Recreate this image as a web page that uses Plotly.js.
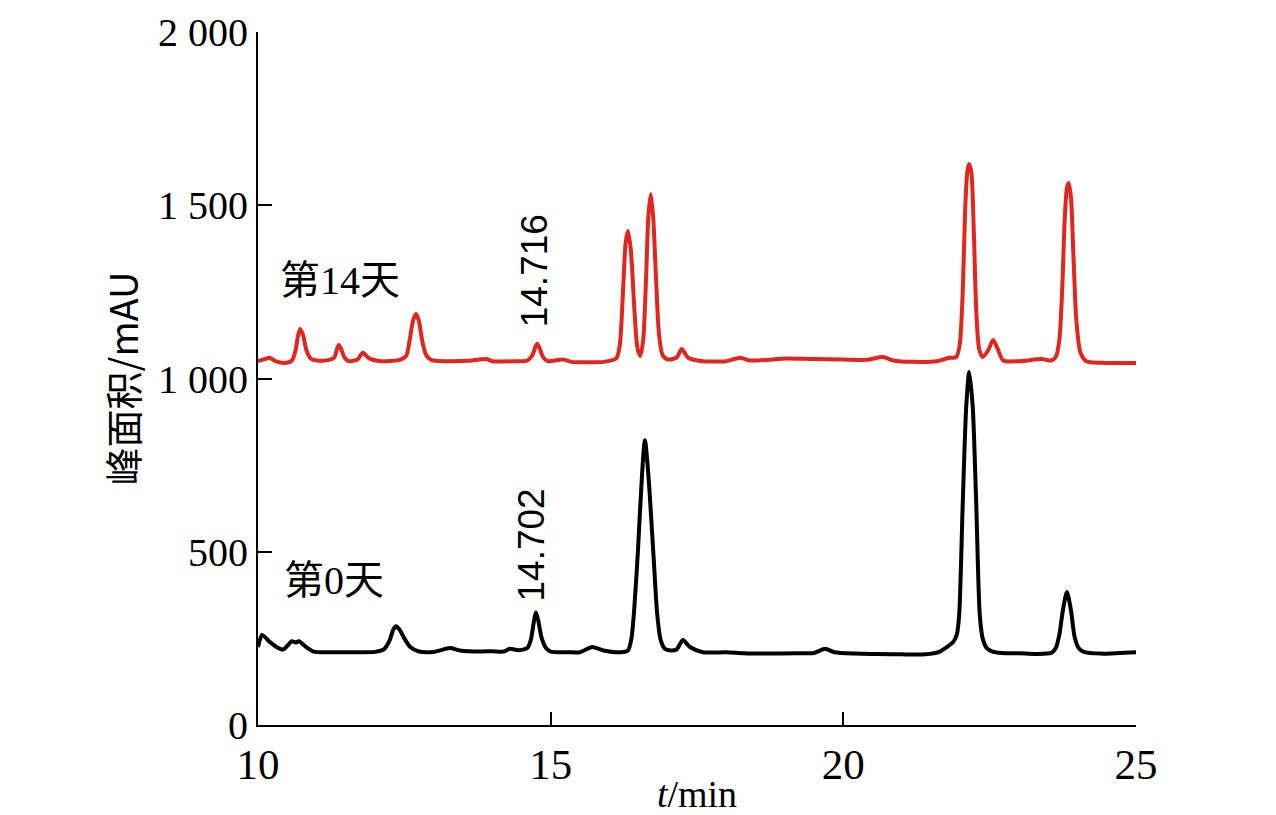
<!DOCTYPE html>
<html>
<head>
<meta charset="utf-8">
<script src="https://cdn.plot.ly/plotly-3.0.1.min.js"></script>
<style>
html,body{margin:0;padding:0;background:#fff;}
#chart{width:1276px;height:815px;}
</style>
</head>
<body>
<div id="chart"></div>
<script>
// Day 0 chromatogram (black)
const day0Time = [10.0,10.07,10.2,10.35,10.43,10.52,10.58,10.64,10.70,10.8,10.95,11.2,11.6,12.0,12.15,12.25,12.31,12.36,12.42,12.5,12.6,12.75,13.0,13.28,13.45,13.8,14.0,14.2,14.3,14.45,14.6,14.66,14.71,14.75,14.79,14.84,14.92,15.0,15.3,15.5,15.71,15.9,16.2,16.32,16.38,16.43,16.49,16.56,16.61,16.67,16.76,16.82,16.88,16.95,17.05,17.15,17.26,17.38,17.6,18.0,18.3,18.7,19.2,19.5,19.69,19.85,20.2,20.6,21.0,21.4,21.65,21.77,21.88,21.94,21.98,22.04,22.10,22.15,22.21,22.27,22.33,22.38,22.45,22.55,22.7,23.0,23.3,23.55,23.63,23.69,23.75,23.82,23.89,23.95,24.02,24.1,24.4,25.0];
const day0Signal = [225,260,240,222,218,232,242,238,242,228,212,210,210,211,218,245,275,285,275,250,225,212,211,222,215,212,213,212,220,216,222,245,295,325,300,255,222,212,210,210,225,215,210,215,250,340,500,720,822,720,480,320,245,220,215,218,245,225,210,210,207,206,207,208,220,210,206,205,204,204,212,225,240,262,320,640,920,1019,920,640,320,250,222,212,208,207,205,208,222,260,330,384,330,255,222,212,206,210];

// Day 14 chromatogram (red)
const day14Time = [10.0,10.1,10.2,10.3,10.45,10.58,10.64,10.68,10.72,10.77,10.83,10.9,11.0,11.2,11.3,11.35,11.38,11.42,11.48,11.55,11.7,11.79,11.9,12.1,12.4,12.53,12.59,12.65,12.70,12.75,12.81,12.88,12.97,13.2,13.6,13.9,14.0,14.4,14.6,14.69,14.74,14.77,14.81,14.87,14.95,15.21,15.35,15.6,15.9,16.12,16.18,16.23,16.28,16.32,16.37,16.43,16.48,16.53,16.58,16.63,16.67,16.71,16.75,16.80,16.85,16.91,17.0,17.15,17.24,17.35,17.6,18.0,18.24,18.4,18.8,19.0,19.5,20.0,20.4,20.68,20.85,21.2,21.6,21.79,21.93,21.99,22.04,22.08,22.12,22.15,22.19,22.23,22.27,22.32,22.38,22.47,22.56,22.65,22.73,23.0,23.39,23.55,23.63,23.69,23.74,23.78,23.82,23.85,23.89,23.93,23.98,24.05,24.15,24.5,25.0];
const day14Signal = [1050,1055,1060,1050,1045,1052,1080,1120,1143,1125,1080,1058,1052,1053,1060,1085,1097,1085,1060,1050,1055,1074,1058,1050,1053,1065,1110,1168,1186,1165,1105,1065,1053,1050,1051,1056,1050,1050,1052,1068,1092,1100,1088,1062,1050,1055,1048,1047,1048,1058,1095,1230,1390,1426,1370,1200,1090,1065,1110,1290,1470,1532,1470,1290,1130,1068,1055,1060,1085,1060,1050,1050,1060,1052,1055,1058,1056,1055,1054,1062,1052,1048,1050,1059,1062,1100,1250,1480,1600,1619,1590,1420,1200,1085,1062,1080,1111,1080,1052,1050,1056,1052,1062,1110,1260,1450,1550,1564,1520,1360,1170,1075,1050,1045,1045];

const yTickVals = [0,500,1000,1500,2000];
const yTickText = ['0','500','1 000','1 500','2 000'];
const xTickVals = [10,15,20,25];
const xTickText = ['10','15','20','25'];

const serif = 'Liberation Serif, Times New Roman, serif';

const traces = [
  {x: day14Time, y: day14Signal, type:'scatter', mode:'lines',
   line:{color:'#e1251f', width:4, shape:'spline', smoothing:0.7}, hoverinfo:'skip'},
  {x: day0Time, y: day0Signal, type:'scatter', mode:'lines',
   line:{color:'#000000', width:4, shape:'spline', smoothing:0.7}, hoverinfo:'skip'}
];

const layout = {
  width:1276, height:815,
  margin:{l:258, r:140, t:32, b:90},
  paper_bgcolor:'#fff', plot_bgcolor:'#fff',
  showlegend:false,
  xaxis:{
    range:[10,25], tickvals:xTickVals, ticktext:xTickText,
    ticks:'inside', ticklen:13, tickwidth:2, tickcolor:'#000',
    showline:true, linecolor:'#000', linewidth:2, showgrid:false, zeroline:false,
    tickfont:{family:serif, size:43, color:'#000'},
    title:{text:'<i>t</i>/min', font:{family:serif, size:38, color:'#000'}, standoff:2}
  },
  yaxis:{
    range:[0,2000], tickvals:yTickVals, ticktext:yTickText,
    ticks:'inside', ticklen:14, tickwidth:2, tickcolor:'#000',
    showline:true, linecolor:'#000', linewidth:2, showgrid:false, zeroline:false,
    tickfont:{family:serif, size:40, color:'#000'},
    title:{text:'峰面积/mAU', font:{family:'Noto Sans CJK SC, sans-serif', size:38, color:'#000'}, standoff:8}
  },
  annotations:[
    {x:11.4, y:1284, xref:'x', yref:'y', text:'第14天', showarrow:false,
     font:{family:'Liberation Serif, Noto Sans CJK SC, serif', size:40, color:'#000'}},
    {x:11.3, y:418, xref:'x', yref:'y', text:'第0天', showarrow:false,
     font:{family:'Liberation Serif, Noto Sans CJK SC, serif', size:40, color:'#000'}},
    {x:14.72, y:1310, xref:'x', yref:'y', text:'14.716', textangle:-90, showarrow:false,
     font:{family:'Liberation Sans, Arial, sans-serif', size:37, color:'#000'}},
    {x:14.67, y:519, xref:'x', yref:'y', text:'14.702', textangle:-90, showarrow:false,
     font:{family:'Liberation Sans, Arial, sans-serif', size:37, color:'#000'}}
  ]
};

Plotly.newPlot('chart', traces, layout, {staticPlot:true, displayModeBar:false});
</script>
</body>
</html>
